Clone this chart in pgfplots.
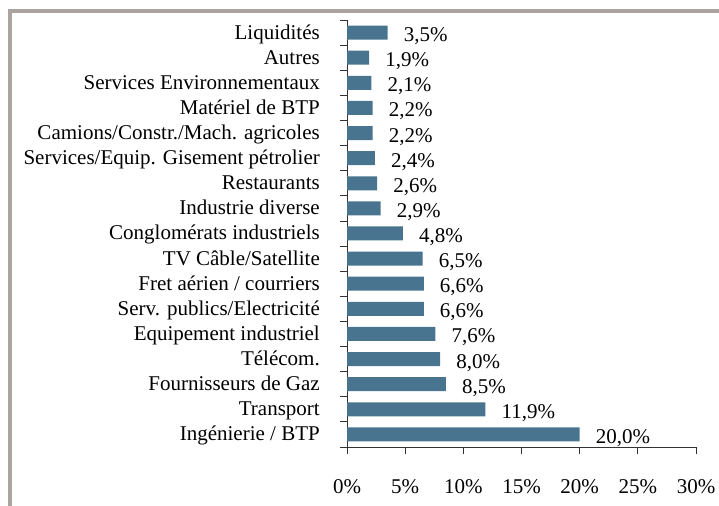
\documentclass[border=0pt]{standalone}
\usepackage{fontspec}
\setmainfont{Liberation Serif}
\usepackage{pgfplots}
\pgfplotsset{compat=1.18}
\definecolor{barblue}{HTML}{48748F}
\definecolor{framegrey}{HTML}{ABA39E}
\begin{document}
\begin{tikzpicture}
\useasboundingbox (0,0) rectangle (719bp,506bp);
\draw[line width=4bp, framegrey] (9.5bp,-20bp) -- (9.5bp,494.5bp) -- (740bp,494.5bp);
\begin{axis}[
  at={(347bp,59bp)}, anchor=south west,
  scale only axis, width=349bp, height=427bp,
  xmin=0, xmax=30, ymin=-0.5, ymax=16.5,
  axis lines*=left,
  axis line style={black!80, line width=0.8pt},
  xtick={0,5,...,30},
  xticklabel={\pgfmathprintnumber{\tick}\%},
  /pgf/number format/assume math mode=true,
  xticklabel style={yshift=-22bp},
  ytick={0,...,16},
  yticklabels={Ingénierie / BTP, Transport, Fournisseurs de Gaz, Télécom., Equipement industriel, Serv. publics/Electricité, Fret aérien / courriers, TV Câble/Satellite, Conglomérats industriels, Industrie diverse, Restaurants, Services/Equip. Gisement pétrolier, Camions/Constr./Mach. agricoles, Matériel de BTP, Services Environnementaux, Autres, Liquidités},
  yticklabel style={xshift=-20bp, anchor=east, inner sep=0pt, text height=13bp, text depth=0pt},
  major y tick style={draw=none},
  minor ytick={-0.5,0.5,...,16.5},
  minor tick length=7bp,
  major tick length=7bp,
  tick align=outside,
  tick style={black!80, line width=0.8pt},
  tick label style={font=\fontsize{21bp}{23bp}\selectfont, text=black},
  xbar, bar width=14bp,
  point meta=x,
  nodes near coords={\pgfmathprintnumber[fixed,fixed zerofill,precision=1,use comma]{\pgfplotspointmeta}\%},
  nodes near coords style={font=\fontsize{21bp}{23bp}\selectfont, anchor=west, inner sep=0pt, text height=13bp, text depth=0pt, xshift=16bp, yshift=-2.5bp, text=black},
  clip=false,
]
\addplot[fill=barblue, draw=none] coordinates {
(20.0,0) (11.9,1) (8.5,2) (8.0,3) (7.6,4) (6.6,5) (6.6,6) (6.5,7) (4.8,8) (2.9,9) (2.6,10) (2.4,11) (2.2,12) (2.2,13) (2.1,14) (1.9,15) (3.5,16)
};
\end{axis}
\end{tikzpicture}
\end{document}
